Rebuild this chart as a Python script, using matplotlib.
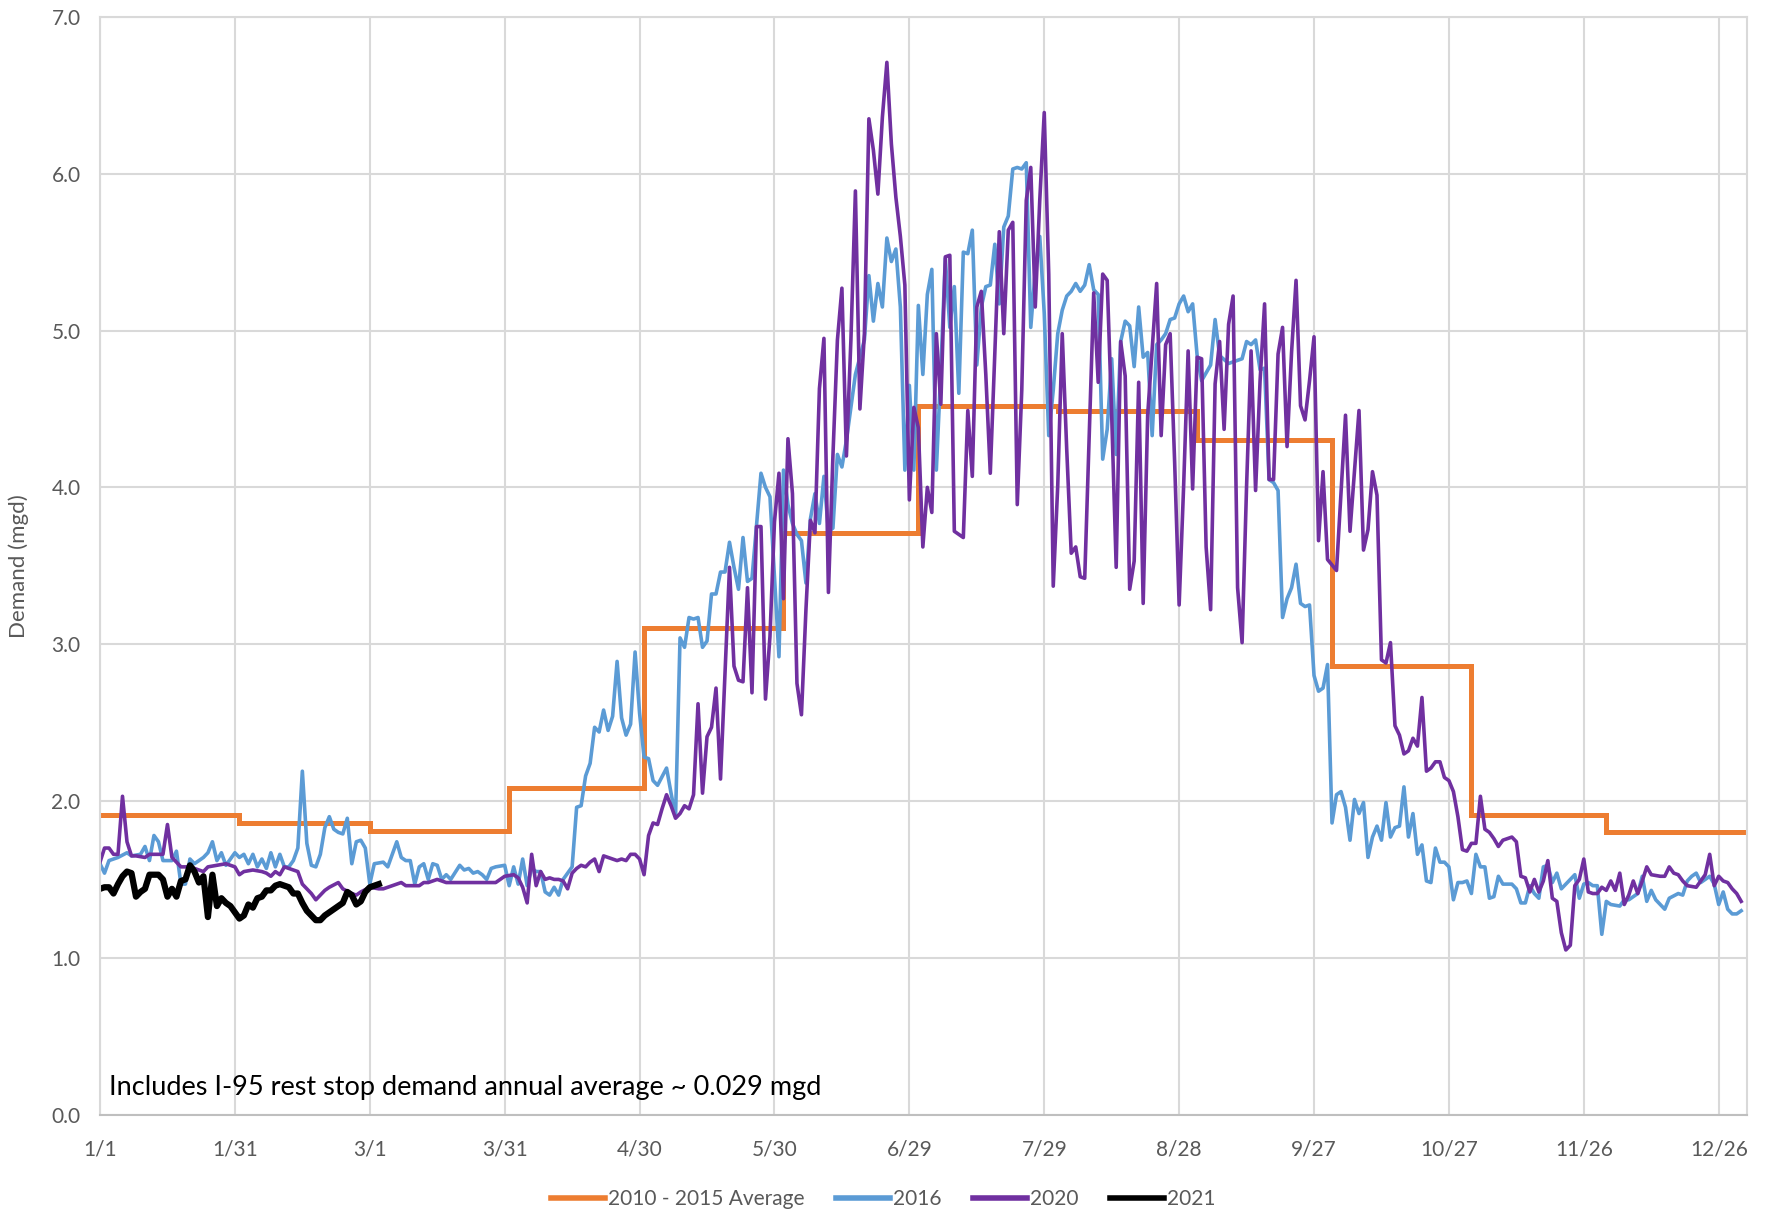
import matplotlib.pyplot as plt
from matplotlib.lines import Line2D

# month start (day of year, 0 = Jan 1) and the 2010-2015 monthly averages
month_edges = [0, 31, 60, 91, 121, 152, 182, 213, 244, 274, 305, 335, 366]
avg_2010_2015 = [1.91, 1.86, 1.81, 2.08, 3.10, 3.71, 4.52, 4.49, 4.30, 2.86, 1.91, 1.80]

# daily demand (day of year, mgd)
demand_2016 = [
    (0, 1.60), (1, 1.54), (2, 1.62), (4, 1.64), (6, 1.67), (7, 1.65), (9, 1.66), (10, 1.71),
    (11, 1.62), (12, 1.78), (13, 1.74), (14, 1.62), (16, 1.62), (17, 1.68), (18, 1.47), (19, 1.47),
    (20, 1.63), (21, 1.60), (23, 1.64), (24, 1.67), (25, 1.74), (26, 1.62), (27, 1.67), (28, 1.59),
    (30, 1.67), (31, 1.64), (32, 1.66), (33, 1.60), (34, 1.66), (35, 1.58), (36, 1.63), (37, 1.57),
    (38, 1.67), (39, 1.58), (40, 1.66), (41, 1.58), (42, 1.58), (43, 1.62), (44, 1.70), (45, 2.19),
    (46, 1.73), (47, 1.59), (48, 1.58), (49, 1.66), (50, 1.83), (51, 1.90), (52, 1.82), (53, 1.80),
    (54, 1.79), (55, 1.89), (56, 1.60), (57, 1.74), (58, 1.75), (59, 1.70), (60, 1.47), (61, 1.60),
    (63, 1.61), (64, 1.58), (66, 1.74), (67, 1.64), (68, 1.62), (69, 1.62), (70, 1.47), (71, 1.58),
    (72, 1.60), (73, 1.50), (74, 1.60), (75, 1.59), (76, 1.50), (77, 1.53), (78, 1.50), (80, 1.59),
    (81, 1.56), (82, 1.57), (83, 1.54), (84, 1.55), (85, 1.53), (86, 1.50), (87, 1.57), (88, 1.58),
    (90, 1.59), (91, 1.46), (92, 1.58), (93, 1.47), (94, 1.63), (95, 1.46), (96, 1.57), (97, 1.55),
    (98, 1.55), (99, 1.42), (100, 1.40), (101, 1.45), (102, 1.40), (103, 1.50), (104, 1.54),
    (105, 1.58), (106, 1.96), (107, 1.97), (108, 2.16), (109, 2.24), (110, 2.47), (111, 2.44),
    (112, 2.58), (113, 2.45), (114, 2.54), (115, 2.89), (116, 2.53), (117, 2.42), (118, 2.49),
    (119, 2.95), (120, 2.56), (121, 2.28), (122, 2.27), (123, 2.13), (124, 2.10), (126, 2.21),
    (127, 2.05), (128, 1.90), (129, 3.04), (130, 2.98), (131, 3.17), (132, 3.16), (133, 3.17),
    (134, 2.98), (135, 3.02), (136, 3.32), (137, 3.32), (138, 3.46), (139, 3.46), (140, 3.65),
    (141, 3.49), (142, 3.35), (143, 3.68), (144, 3.40), (145, 3.42), (147, 4.09), (148, 4.00),
    (149, 3.94), (150, 3.43), (151, 2.92), (152, 4.11), (153, 3.89), (154, 3.77), (155, 3.70),
    (156, 3.66), (157, 3.39), (158, 3.80), (159, 3.96), (160, 3.77), (161, 4.07), (162, 3.72),
    (163, 3.74), (164, 4.21), (165, 4.13), (166, 4.30), (167, 4.51), (168, 4.72), (170, 4.94),
    (171, 5.35), (172, 5.06), (173, 5.30), (174, 5.15), (175, 5.59), (176, 5.44), (177, 5.52),
    (178, 5.15), (179, 4.11), (180, 4.65), (181, 4.11), (182, 5.16), (183, 4.72), (184, 5.23),
    (185, 5.39), (186, 4.11), (187, 4.75), (188, 5.46), (189, 5.02), (190, 5.28), (191, 4.60),
    (192, 5.50), (193, 5.49), (194, 5.64), (195, 4.78), (196, 5.15), (197, 5.28), (198, 5.29),
    (199, 5.55), (200, 5.17), (201, 5.66), (202, 5.73), (203, 6.03), (204, 6.04), (205, 6.03),
    (206, 6.07), (207, 5.02), (208, 5.38), (209, 5.60), (210, 5.11), (211, 4.33), (212, 4.62),
    (213, 4.98), (214, 5.13), (215, 5.22), (216, 5.25), (217, 5.30), (218, 5.25), (219, 5.29),
    (220, 5.42), (221, 5.26), (222, 5.23), (223, 4.18), (224, 4.37), (225, 4.82), (226, 4.21),
    (227, 4.93), (228, 5.06), (229, 5.03), (230, 4.77), (231, 5.15), (232, 4.83), (233, 4.86),
    (234, 4.33), (235, 4.91), (236, 4.94), (237, 4.98), (238, 5.07), (239, 5.08), (240, 5.17),
    (241, 5.22), (242, 5.12), (243, 5.17), (244, 4.84), (245, 4.68), (247, 4.78), (248, 5.07),
    (249, 4.84), (251, 4.79), (253, 4.81), (254, 4.82), (255, 4.93), (256, 4.91), (257, 4.94),
    (258, 4.75), (259, 4.76), (260, 4.05), (261, 4.03), (262, 3.98), (263, 3.17), (264, 3.29),
    (265, 3.36), (266, 3.51), (267, 3.26), (268, 3.24), (269, 3.25), (270, 2.80), (271, 2.70),
    (272, 2.72), (273, 2.87), (274, 1.86), (275, 2.04), (276, 2.06), (277, 1.96), (278, 1.75),
    (279, 2.01), (280, 1.92), (281, 1.99), (282, 1.64), (283, 1.77), (284, 1.84), (285, 1.75),
    (286, 1.99), (287, 1.77), (288, 1.83), (289, 1.84), (290, 2.09), (291, 1.77), (292, 1.92),
    (293, 1.66), (294, 1.72), (295, 1.49), (296, 1.48), (297, 1.70), (298, 1.61), (299, 1.61),
    (300, 1.58), (301, 1.37), (302, 1.48), (303, 1.48), (304, 1.49), (305, 1.41), (306, 1.66),
    (307, 1.58), (308, 1.58), (309, 1.38), (310, 1.39), (311, 1.52), (312, 1.47), (314, 1.47),
    (315, 1.44), (316, 1.35), (317, 1.35), (318, 1.46), (319, 1.41), (320, 1.38), (321, 1.58),
    (322, 1.59), (323, 1.48), (324, 1.54), (325, 1.44), (327, 1.50), (328, 1.53), (329, 1.38),
    (330, 1.47), (331, 1.48), (332, 1.46), (333, 1.46), (334, 1.15), (335, 1.36), (336, 1.34),
    (338, 1.33), (339, 1.37), (340, 1.37), (342, 1.41), (343, 1.52), (344, 1.36), (345, 1.43),
    (346, 1.37), (348, 1.31), (349, 1.38), (351, 1.41), (352, 1.40), (353, 1.49), (354, 1.52),
    (355, 1.54), (356, 1.48), (358, 1.52), (359, 1.47), (360, 1.34), (361, 1.42), (362, 1.31),
    (363, 1.28), (364, 1.28), (365, 1.30),
]

demand_2020 = [
    (0, 1.61), (1, 1.70), (2, 1.70), (3, 1.66), (4, 1.66), (5, 2.03), (6, 1.74), (7, 1.65),
    (8, 1.65), (10, 1.64), (11, 1.66), (13, 1.66), (14, 1.66), (15, 1.85), (16, 1.64), (17, 1.61),
    (18, 1.58), (20, 1.58), (21, 1.57), (23, 1.55), (24, 1.58), (26, 1.59), (28, 1.60), (30, 1.58),
    (31, 1.53), (32, 1.55), (34, 1.56), (36, 1.55), (37, 1.54), (38, 1.52), (39, 1.55), (40, 1.53),
    (41, 1.58), (43, 1.56), (44, 1.55), (45, 1.47), (47, 1.41), (48, 1.37), (50, 1.43), (51, 1.45),
    (53, 1.48), (54, 1.44), (56, 1.41), (57, 1.40), (58, 1.42), (60, 1.45), (62, 1.44), (63, 1.44),
    (65, 1.46), (67, 1.48), (68, 1.46), (70, 1.46), (71, 1.46), (72, 1.48), (73, 1.48), (75, 1.50),
    (77, 1.48), (79, 1.48), (81, 1.48), (83, 1.48), (84, 1.48), (86, 1.48), (88, 1.48), (89, 1.50),
    (90, 1.52), (92, 1.53), (93, 1.51), (94, 1.45), (95, 1.35), (96, 1.66), (97, 1.46), (98, 1.55),
    (99, 1.50), (100, 1.51), (101, 1.50), (102, 1.50), (103, 1.49), (104, 1.44), (105, 1.54),
    (106, 1.57), (107, 1.59), (108, 1.58), (109, 1.61), (110, 1.63), (111, 1.55), (112, 1.65),
    (113, 1.64), (115, 1.62), (116, 1.63), (117, 1.62), (118, 1.66), (119, 1.66), (120, 1.63),
    (121, 1.53), (122, 1.78), (123, 1.86), (124, 1.85), (125, 1.95), (126, 2.04), (127, 1.97),
    (128, 1.89), (129, 1.92), (130, 1.97), (131, 1.95), (132, 2.04), (133, 2.62), (134, 2.05),
    (135, 2.41), (136, 2.47), (137, 2.72), (138, 2.14), (139, 2.82), (140, 3.49), (141, 2.86),
    (142, 2.77), (143, 2.76), (144, 3.36), (145, 2.69), (146, 3.75), (147, 3.75), (148, 2.65),
    (149, 3.05), (150, 3.78), (151, 4.09), (152, 3.29), (153, 4.31), (154, 3.96), (155, 2.75),
    (156, 2.55), (157, 3.22), (158, 3.79), (159, 3.71), (160, 4.63), (161, 4.95), (162, 3.33),
    (163, 4.20), (164, 4.94), (165, 5.27), (166, 4.20), (167, 4.94), (168, 5.89), (169, 4.50),
    (170, 4.98), (171, 6.35), (172, 6.15), (173, 5.87), (174, 6.36), (175, 6.71), (176, 6.19),
    (177, 5.85), (178, 5.60), (179, 5.29), (180, 3.92), (181, 4.51), (182, 4.38), (183, 3.62),
    (184, 4.00), (185, 3.84), (186, 4.98), (187, 4.53), (188, 5.47), (189, 5.48), (190, 3.72),
    (191, 3.70), (192, 3.68), (193, 4.49), (194, 4.07), (195, 5.15), (196, 5.25), (197, 4.72),
    (198, 4.09), (199, 4.85), (200, 5.63), (201, 4.98), (202, 5.64), (203, 5.69), (204, 3.89),
    (205, 4.62), (206, 5.83), (207, 6.04), (208, 5.15), (209, 5.83), (210, 6.39), (211, 5.36),
    (212, 3.37), (213, 4.01), (214, 4.98), (215, 4.24), (216, 3.58), (217, 3.62), (218, 3.43),
    (219, 3.42), (221, 5.24), (222, 4.67), (223, 5.36), (224, 5.32), (225, 4.46), (226, 3.49),
    (227, 4.93), (228, 4.71), (229, 3.35), (230, 3.53), (231, 4.67), (232, 3.26), (233, 4.46),
    (235, 5.30), (236, 4.33), (237, 4.91), (238, 4.98), (239, 4.16), (240, 3.25), (241, 4.01),
    (242, 4.87), (243, 3.99), (244, 4.83), (245, 4.82), (246, 3.62), (247, 3.22), (248, 4.66),
    (249, 4.93), (250, 4.37), (251, 5.04), (252, 5.22), (253, 3.36), (254, 3.01), (255, 4.01),
    (256, 4.87), (257, 3.98), (258, 4.68), (259, 5.17), (260, 4.05), (261, 4.05), (262, 4.85),
    (263, 5.02), (264, 4.26), (265, 4.86), (266, 5.32), (267, 4.52), (268, 4.43), (269, 4.68),
    (270, 4.96), (271, 3.66), (272, 4.10), (273, 3.54), (275, 3.47), (277, 4.46), (278, 3.72),
    (280, 4.49), (281, 3.60), (282, 3.73), (283, 4.10), (284, 3.95), (285, 2.90), (286, 2.88),
    (287, 3.01), (288, 2.48), (289, 2.42), (290, 2.30), (291, 2.32), (292, 2.40), (293, 2.35),
    (294, 2.66), (295, 2.19), (296, 2.21), (297, 2.25), (298, 2.25), (299, 2.15), (300, 2.13),
    (301, 2.06), (302, 1.90), (303, 1.69), (304, 1.68), (305, 1.73), (306, 1.73), (307, 2.03),
    (308, 1.82), (309, 1.80), (310, 1.76), (311, 1.71), (312, 1.75), (313, 1.76), (314, 1.77),
    (315, 1.74), (316, 1.52), (317, 1.51), (318, 1.42), (319, 1.50), (320, 1.42), (321, 1.49),
    (322, 1.62), (323, 1.38), (324, 1.36), (325, 1.16), (326, 1.05), (327, 1.08), (328, 1.46),
    (329, 1.50), (330, 1.63), (331, 1.42), (332, 1.41), (333, 1.41), (334, 1.45), (335, 1.43),
    (336, 1.49), (337, 1.43), (338, 1.54), (339, 1.34), (340, 1.40), (341, 1.49), (342, 1.41),
    (343, 1.49), (344, 1.58), (345, 1.53), (347, 1.52), (348, 1.52), (349, 1.58), (350, 1.54),
    (351, 1.53), (352, 1.49), (353, 1.46), (355, 1.45), (356, 1.49), (357, 1.53), (358, 1.66),
    (359, 1.46), (360, 1.52), (361, 1.49), (362, 1.48), (363, 1.44), (364, 1.41), (365, 1.36),
]

demand_2021 = [
    (0, 1.44), (1, 1.45), (2, 1.45), (3, 1.41), (4, 1.47), (5, 1.52), (6, 1.55), (7, 1.54),
    (8, 1.39), (9, 1.42), (10, 1.44), (11, 1.53), (12, 1.53), (13, 1.53), (14, 1.50), (15, 1.39),
    (16, 1.44), (17, 1.39), (18, 1.49), (19, 1.50), (20, 1.59), (21, 1.55), (22, 1.48), (23, 1.52),
    (24, 1.26), (25, 1.53), (26, 1.33), (27, 1.38), (28, 1.35), (29, 1.33), (30, 1.29), (31, 1.25),
    (32, 1.27), (33, 1.34), (34, 1.32), (35, 1.38), (36, 1.39), (37, 1.43), (38, 1.43), (39, 1.46),
    (40, 1.47), (41, 1.46), (42, 1.45), (43, 1.41), (44, 1.41), (45, 1.35), (46, 1.30), (47, 1.27),
    (48, 1.24), (49, 1.24), (50, 1.27), (51, 1.29), (52, 1.31), (53, 1.33), (54, 1.35), (55, 1.42),
    (56, 1.40), (57, 1.34), (58, 1.36), (59, 1.42), (60, 1.45), (61, 1.46), (62, 1.47),
]

tick_days = [0, 30, 60, 90, 120, 150, 180, 210, 240, 270, 300, 330, 360]
tick_labels = ["1/1", "1/31", "3/1", "3/31", "4/30", "5/30", "6/29", "7/29",
               "8/28", "9/27", "10/27", "11/26", "12/26"]

series_names = ["2010 - 2015 Average", "2016", "2020", "2021"]
colors = ["#ED7D31", "#5B9BD5", "#7030A0", "#000000"]
widths = [3.6, 2.6, 2.6, 4.5]

plt.rcParams['font.family'] = ['Lato', 'DejaVu Sans']

fig = plt.figure(figsize=(17.67, 12.15), dpi=100)
ax = fig.add_axes([0.0566, 0.0826, 0.9321, 0.9035])

# step line for the multi-year monthly average
ax.step(month_edges, avg_2010_2015 + [avg_2010_2015[-1]], where="post",
        color=colors[0], lw=widths[0], solid_joinstyle="miter")

for data, c, w in zip([demand_2016, demand_2020, demand_2021], colors[1:], widths[1:]):
    d, v = zip(*data)
    ax.plot(d, v, color=c, lw=w, solid_joinstyle="round")

ax.set_xlim(0, 366.3)
ax.set_ylim(0, 7)
ax.set_xticks(tick_days)
ax.set_xticklabels(tick_labels)
ax.set_yticks([i for i in range(8)])
ax.set_yticklabels([f"{i:.1f}" for i in range(8)])
ax.grid(True, color="#d9d9d9", lw=1.5)
ax.set_axisbelow(True)
for s in ax.spines.values():
    s.set_color("#d9d9d9")
    s.set_linewidth(1.5)
ax.spines["bottom"].set_color("#bfbfbf")
ax.tick_params(length=0, labelsize=15, colors="#595959")
ax.tick_params(axis="x", pad=18)
ax.tick_params(axis="y", pad=14)
ax.set_ylabel("Demand (mgd)", fontsize=16, color="#595959", labelpad=16)

ax.text(2, 0.17, "Includes I-95 rest stop demand annual average ~ 0.029 mgd",
        fontsize=19.5, color="black", va="center", ha="left")

handles = [Line2D([0], [0], color=c, lw=4.0) for c in colors]
leg = fig.legend(handles, series_names, loc="center", bbox_to_anchor=(0.5, 0.013), ncol=4,
                 frameon=False, fontsize=15, handlelength=2.6, handletextpad=0.15,
                 columnspacing=1.5)
for t in leg.get_texts():
    t.set_color("#595959")

fig.savefig("out.png", dpi=100)
